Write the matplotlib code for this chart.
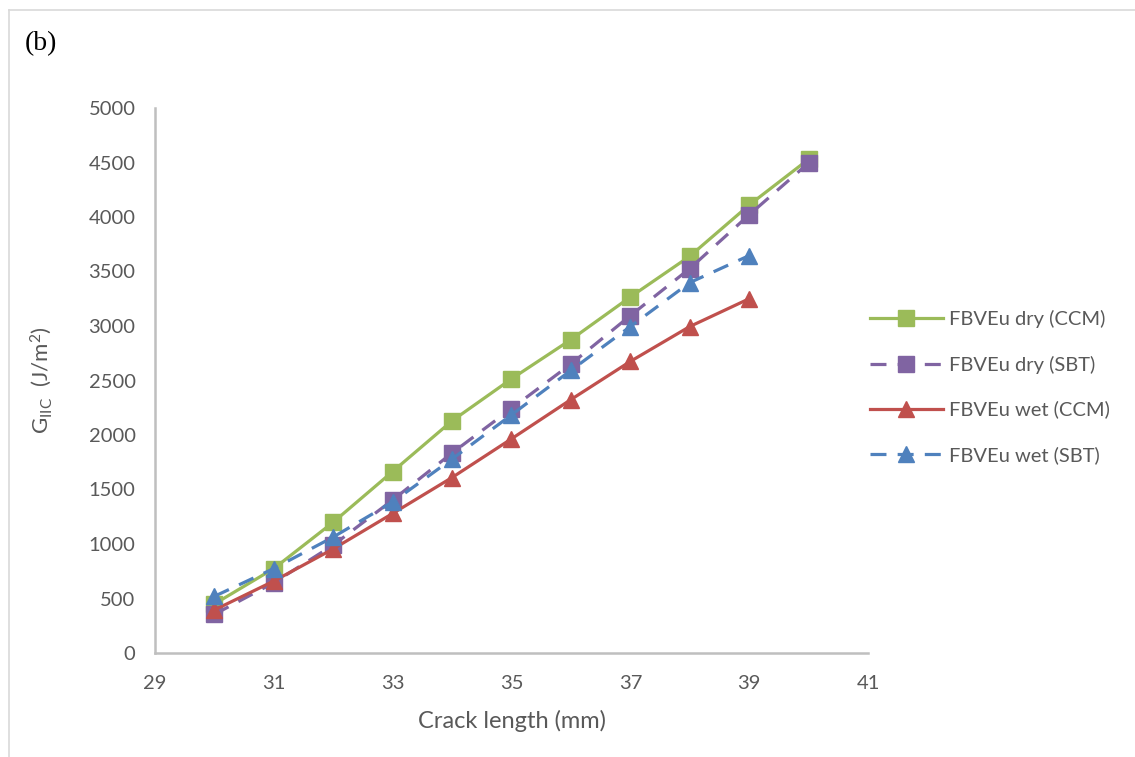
import numpy as np
import matplotlib
matplotlib.use('Agg')
import matplotlib.pyplot as plt
from matplotlib.lines import Line2D

#################################################################
# DATA
#################################################################
crack_length = [30, 31, 32, 33, 34, 35, 36, 37, 38, 39, 40]

dry_ccm = [450, 775, 1200, 1665, 2130, 2515, 2875, 3266, 3640, 4110, 4530]
dry_sbt = [355, 645, 990, 1404, 1835, 2243, 2651, 3095, 3527, 4020, 4495]
wet_ccm = [395, 660, 955, 1280, 1610, 1965, 2325, 2675, 2995, 3250]
wet_sbt = [520, 775, 1064, 1385, 1780, 2185, 2593, 2995, 3398, 3646]

series_labels = ['FBVEu dry (CCM)', 'FBVEu dry (SBT)',
                 'FBVEu wet (CCM)', 'FBVEu wet (SBT)']

x_ticks = [29, 31, 33, 35, 37, 39, 41]
y_ticks = [0, 500, 1000, 1500, 2000, 2500, 3000, 3500, 4000, 4500, 5000]

#################################################################
# STYLE
#################################################################
plt.rcParams['font.family'] = ['Lato', 'DejaVu Sans']
plt.rcParams['mathtext.default'] = 'regular'

green = '#9BBB59'
purple = '#8064A2'
red = '#C0504D'
blue = '#4F81BD'
text_grey = '#595959'
axis_grey = '#BFBFBF'
dash = (0, (5, 3.5))

fig = plt.figure(figsize=(11.35, 7.57), dpi=100)
ax = fig.add_axes([155 / 1135, 1 - 653 / 757, (868 - 155) / 1135, (653 - 108) / 757])

ax.plot(crack_length, dry_ccm, color=green, lw=2.3, marker='s', ms=11,
        label=series_labels[0], zorder=3)
ax.plot(crack_length, dry_sbt, color=purple, lw=2.3, ls=dash, marker='s', ms=11,
        label=series_labels[1], zorder=4)
ax.plot(crack_length[:len(wet_ccm)], wet_ccm, color=red, lw=2.3, marker='^', ms=12,
        label=series_labels[2], zorder=5)
ax.plot(crack_length[:len(wet_sbt)], wet_sbt, color=blue, lw=2.3, ls=dash, marker='^', ms=12,
        label=series_labels[3], zorder=6)

ax.set_xlim(29, 41)
ax.set_ylim(0, 5000)
ax.set_xticks(x_ticks)
ax.set_yticks(y_ticks)
ax.tick_params(length=0, labelsize=14.5, colors=text_grey)
ax.tick_params(axis='y', pad=14)
ax.tick_params(axis='x', pad=16)

for side in ['top', 'right']:
    ax.spines[side].set_visible(False)
for side in ['left', 'bottom']:
    ax.spines[side].set_color(axis_grey)
    ax.spines[side].set_linewidth(1.8)

ax.set_xlabel('Crack length (mm)', fontsize=17, color=text_grey)
ax.xaxis.set_label_coords(0.5, -0.105)
ax.set_ylabel('G$_{IIC}$  (J/m$^2$)', fontsize=16, color=text_grey)
ax.yaxis.set_label_coords(-0.142, 0.5)

# legend on the right
fig.legend(loc='center left', bbox_to_anchor=(852 / 1135, 1 - 387 / 757),
           frameon=False, fontsize=14.5, labelcolor=text_grey,
           handlelength=3.6, handletextpad=0.3, labelspacing=1.35)

# panel tag
fig.text(25 / 1135, 1 - 44 / 757, '(b)', fontsize=20, family='Liberation Serif',
         va='center', ha='left', color='black')

# chart-area border (only left and top edges visible in the crop)
fig.add_artist(Line2D([9 / 1135, 9 / 1135], [0, 1 - 10 / 757], color='#D9D9D9',
                      lw=1.2, transform=fig.transFigure))
fig.add_artist(Line2D([9 / 1135, 1], [1 - 10 / 757, 1 - 10 / 757], color='#D9D9D9',
                      lw=1.2, transform=fig.transFigure))

fig.savefig('out.png', dpi=100)
plt.close(fig)
